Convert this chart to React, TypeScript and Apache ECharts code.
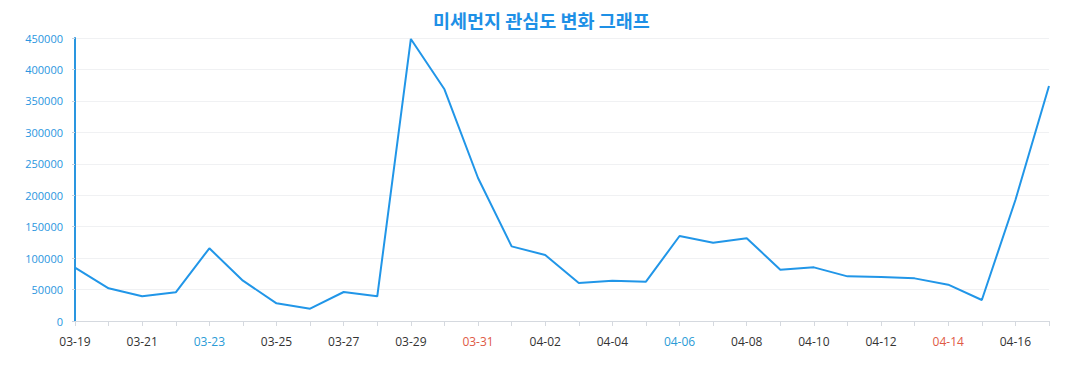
import React, { useEffect, useRef } from "react";
import * as echarts from "echarts";

const categories = [
  "03-19", "03-20", "03-21", "03-22", "03-23", "03-24", "03-25", "03-26", "03-27", "03-28",
  "03-29", "03-30", "03-31", "04-01", "04-02", "04-03", "04-04", "04-05", "04-06", "04-07",
  "04-08", "04-09", "04-10", "04-11", "04-12", "04-13", "04-14", "04-15", "04-16", "04-17",
];
const values = [
  85000, 52000, 39300, 45600, 115600, 64100, 28100, 19600, 46100, 39300,
  448500, 368400, 227400, 118700, 105000, 60400, 64100, 62500, 135200, 124500,
  131500, 81600, 85300, 71000, 70000, 67800, 57800, 33400, 192400, 373700,
];
const blueLabels = ["03-23", "04-06"];
const redLabels = ["03-31", "04-14"];
const title = "미세먼지 관심도 변화 그래프";

export default function App() {
  const ref = useRef<HTMLDivElement>(null);
  useEffect(() => {
    if (!ref.current) return;
    const chart = echarts.init(ref.current, null, { renderer: "svg" });
    chart.setOption({
      animation: false,
      title: {
        text: title,
        left: 428,
        top: 6,
        textStyle: {
          color: "#1e90e6",
          fontSize: 18.5,
          fontWeight: "bold",
          fontFamily: "Noto Sans CJK KR",
        },
      },
      grid: { left: 75, right: 28, top: 38, bottom: 69 },
      xAxis: {
        type: "category",
        data: categories,
        boundaryGap: false,
        axisLine: { lineStyle: { color: "#d5d9df" } },
        axisTick: { show: true, interval: 0, lineStyle: { color: "#d5d9df" } },
        axisLabel: {
          interval: 1,
          fontSize: 12,
          margin: 14,
          fontFamily: "Open Sans",
          color: (v: string) =>
            blueLabels.includes(v) ? "#2a9bd6" : redLabels.includes(v) ? "#e05a45" : "#333",
        },
      },
      yAxis: {
        type: "value",
        min: 0,
        max: 450000,
        interval: 50000,
        axisLine: { show: true, lineStyle: { color: "#2a96e0", width: 2 } },
        axisTick: { show: true, length: 3, lineStyle: { color: "#c9d3de" } },
        axisLabel: {
          color: "#2a96e0",
          fontSize: 11,
          fontFamily: "Open Sans",
          margin: 12,
          formatter: (v: number) => String(v),
        },
        splitLine: { lineStyle: { color: "#f0f1f3" } },
      },
      series: [
        {
          type: "line",
          data: values,
          symbol: "none",
          lineStyle: { color: "#2196e8", width: 2 },
        },
      ],
    });
    return () => chart.dispose();
  }, []);
  return <div ref={ref} style={{ width: 1077, height: 390, margin: -8 }} />;
}
